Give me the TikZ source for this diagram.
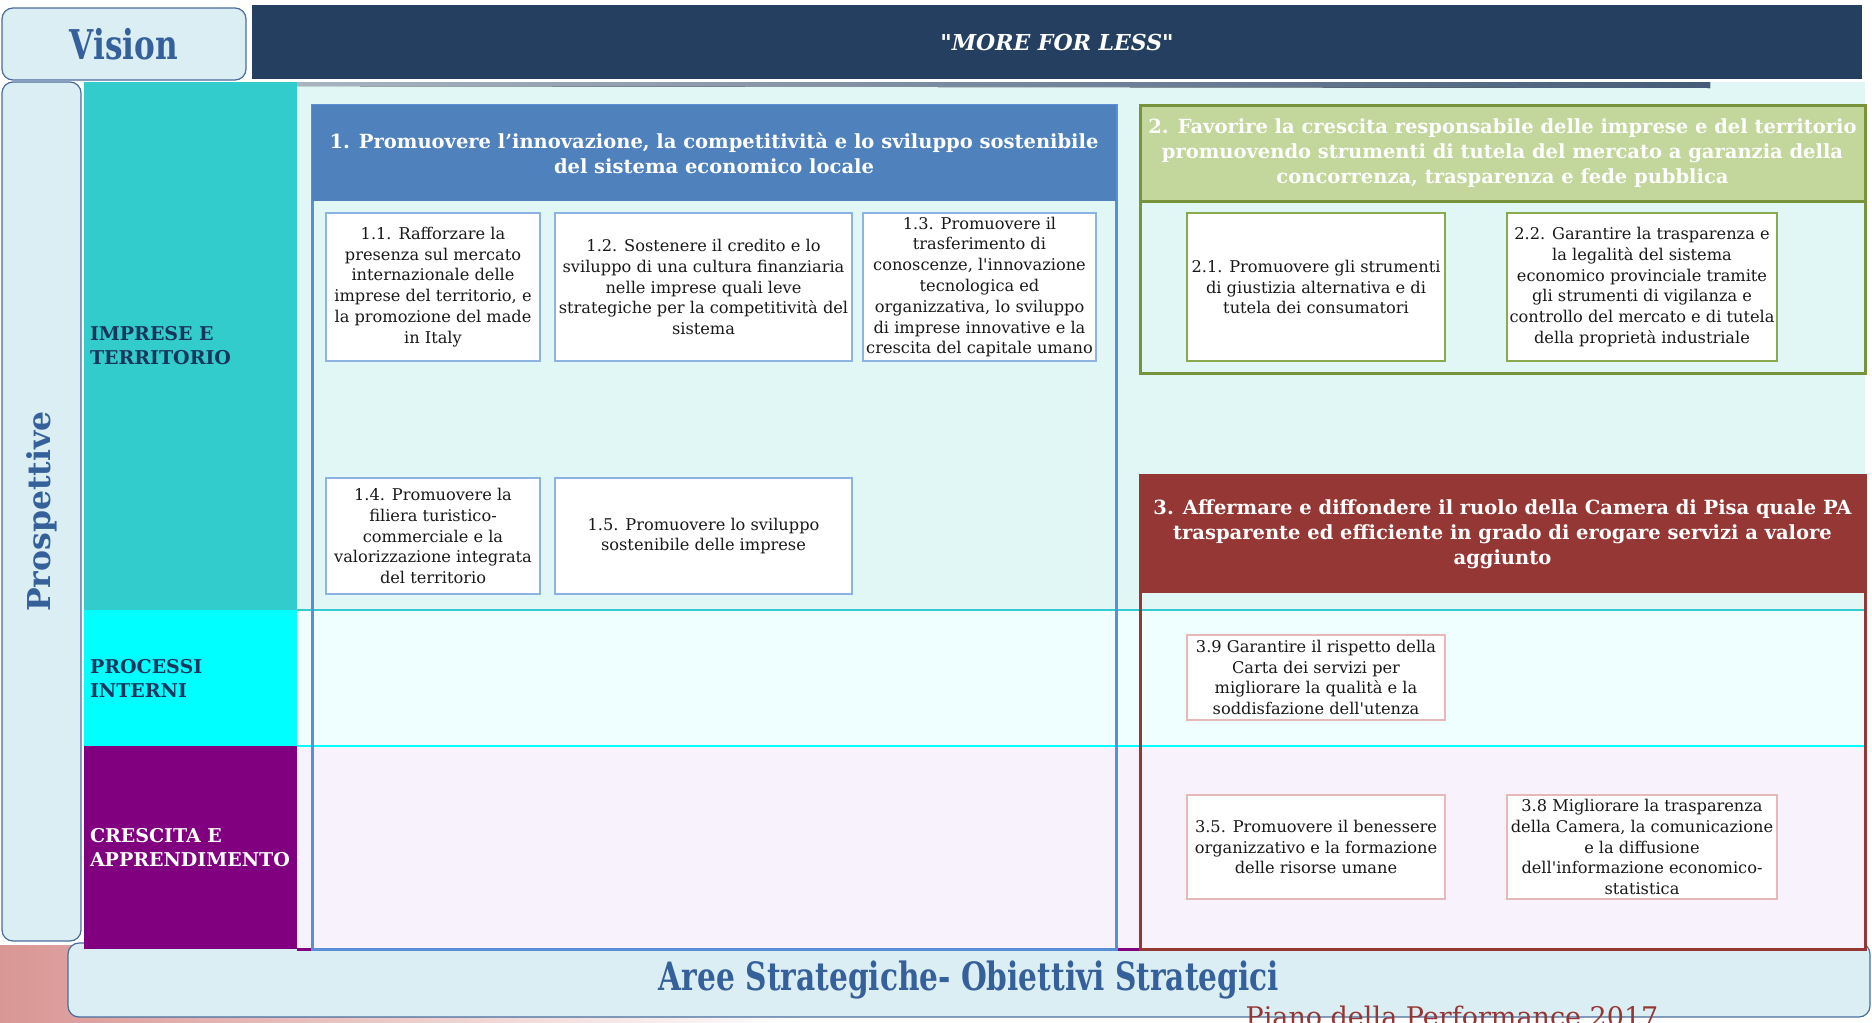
\documentclass[tikz,border=0pt]{standalone}
\usepackage{fontspec}
\usepackage{xcolor}
\usepackage{tikz}
\usetikzlibrary{positioning,calc}
\setmainfont{DejaVu Serif}
\newfontfamily\condserif{DejaVu Serif}[FakeStretch=0.76]
\definecolor{visionfill}{HTML}{DBEEF4}
\definecolor{visionline}{HTML}{4A6C9B}
\definecolor{visiontext}{HTML}{36609A}
\definecolor{mottonavy}{HTML}{243F60}
\definecolor{rowteal}{HTML}{E1F7F5}
\definecolor{rowcyan}{HTML}{EFFFFF}
\definecolor{rowlilac}{HTML}{F8F2FD}
\definecolor{catteal}{HTML}{33CCCC}
\definecolor{catcyan}{HTML}{00FFFF}
\definecolor{catpurple}{HTML}{800080}
\definecolor{catnavy}{HTML}{17365D}
\definecolor{areablue}{HTML}{4F81BD}
\definecolor{arealine}{HTML}{5B8FD5}
\definecolor{areagreen}{HTML}{C3D69B}
\definecolor{greenline}{HTML}{77933C}
\definecolor{areared}{HTML}{953735}
\definecolor{subblue}{HTML}{8DB3E2}
\definecolor{subgreen}{HTML}{8AAA4F}
\definecolor{subpink}{HTML}{E6B9B8}
\definecolor{pianored}{HTML}{943634}
\definecolor{shadepink}{HTML}{D99694}
\newcommand{\goalfont}{\fontsize{16.2}{20.8}\selectfont}
\newcommand{\headfont}{\bfseries\fontsize{19.5}{25}\selectfont}
\newcommand{\catfont}{\bfseries\fontsize{19}{24}\selectfont}
\newcommand{\mottofont}{\bfseries\itshape\fontsize{22}{25}\selectfont}
\newcommand{\visionfont}{\condserif\bfseries\fontsize{41}{44}\selectfont}
\newcommand{\areefont}{\condserif\bfseries\fontsize{39}{42}\selectfont}
\newcommand{\prospfont}{\bfseries\fontsize{31.5}{34}\selectfont}
\newcommand{\pianofont}{\fontsize{27}{30}\selectfont}

\begin{document}
\begin{tikzpicture}[x=1pt, y=-1pt,
    panel/.style={draw=visionline, fill=visionfill, line width=1.2pt, rounded corners=11pt,
        text=visiontext, inner sep=0pt},
    head/.style={align=center, text=white, font=\headfont, inner sep=0pt},
    cat/.style={align=left, font=\catfont, minimum width=213pt, text width=201pt, inner xsep=6pt},
    goal/.style={draw, fill=white, align=center, font=\goalfont, text=black!90, inner sep=1pt, line width=1.3pt}
]
    \useasboundingbox (0,0) rectangle (1872,1023);
    \clip (0,0) rectangle (1872,1023);

    % frame: vision, perspectives, bottom banner
    \fill[left color=shadepink, right color=white] (0,945) rectangle (800,1023);
    \node[panel, minimum width=1802pt, minimum height=74pt, font=\areefont] (aree) at (969,980) {Aree Strategiche- Obiettivi Strategici};
    \node[panel, minimum width=859pt, minimum height=79pt, font=\prospfont, rotate=90] (prosp) at (41.5,511.5) {Prospettive};
    \node[panel, minimum width=244pt, minimum height=72pt, font=\visionfont] (vision) at (124,44) {Vision};
    \node[fill=mottonavy, minimum width=1610pt, minimum height=74pt, text=white, font=\mottofont] (motto) at (1057,42) {\textquotedbl MORE FOR LESS\textquotedbl};

    % rows
    \fill[rowteal] (84,82) rectangle (1865,610);
    \fill[rowcyan] (297,610) rectangle (1865,746);
    \fill[rowlilac] (297,746) rectangle (1865,949);
    \fill[left color=mottonavy!35, right color=mottonavy!85] (170,82) -- (1710,82) -- (1710,88) -- (170,86) -- cycle;
    \node[cat, fill=catteal, minimum height=528pt, text=catnavy] (imprese) at (190.5,346) {IMPRESE E\\TERRITORIO};
    \node[cat, fill=catcyan, minimum height=136pt, text=catnavy] (processi) at (190.5,678) {PROCESSI\\INTERNI};
    \node[cat, fill=catpurple, minimum height=203pt, text=white] (crescita) at (190.5,847.5) {CRESCITA E\\APPRENDIMENTO};
    \draw[catteal, line width=2pt] (297,610) -- (1865,610);
    \draw[catcyan, line width=2.5pt] (297,746) -- (1865,746);
    \draw[catpurple, line width=3pt] (297,949) -- (1865,949);

    % strategic areas
    \draw[arealine, line width=3pt] (312,105) rectangle (1116,949);
    \draw[greenline, line width=3pt] (1140,105) rectangle (1865,373);
    \draw[areared, line width=3pt] (1140,475) rectangle (1865,949);
    \node[head, fill=areablue, minimum width=804pt, minimum height=96pt] (h1) at (714,153)
        {1. Promuovere l’innovazione, la competitività e lo sviluppo sostenibile\\del sistema economico locale};
    \node[head, fill=areagreen, draw=greenline, line width=3pt, minimum width=725pt, minimum height=96pt] (h2) at (1502.5,153)
        {2. Favorire la crescita responsabile delle imprese e del territorio\\promuovendo strumenti di tutela del mercato a garanzia della\\concorrenza, trasparenza e fede pubblica};
    \node[head, fill=areared, minimum width=725pt, minimum height=118pt] (h3) at (1502.5,534)
        {3. Affermare e diffondere il ruolo della Camera di Pisa quale PA\\trasparente ed efficiente in grado di erogare servizi a valore\\aggiunto};

    % objectives
    \node[goal, draw=subblue, minimum width=214pt, minimum height=148pt] (o11) at (433,287)
        {1.1. Rafforzare la\\presenza sul mercato\\internazionale delle\\imprese del territorio, e\\la promozione del made\\in Italy};
    \node[goal, draw=subblue, minimum width=297pt, minimum height=148pt] (o12) at (703.5,287)
        {1.2. Sostenere il credito e lo\\sviluppo di una cultura finanziaria\\nelle imprese quali leve\\strategiche per la competitività del\\sistema};
    \node[goal, draw=subblue, minimum width=233pt, minimum height=148pt] (o13) at (979.5,287)
        {1.3. Promuovere il\\trasferimento di\\conoscenze, l\textquotesingle innovazione\\tecnologica ed\\organizzativa, lo sviluppo\\di imprese innovative e la\\crescita del capitale umano};
    \node[goal, draw=subblue, minimum width=214pt, minimum height=116pt] (o14) at (433,536)
        {1.4. Promuovere la\\filiera turistico-\\commerciale e la\\valorizzazione integrata\\del territorio};
    \node[goal, draw=subblue, minimum width=297pt, minimum height=116pt] (o15) at (703.5,536)
        {1.5. Promuovere lo sviluppo\\sostenibile delle imprese};
    \node[goal, draw=subgreen, minimum width=258pt, minimum height=148pt] (o21) at (1316,287)
        {2.1. Promuovere gli strumenti\\di giustizia alternativa e di\\tutela dei consumatori};
    \node[goal, draw=subgreen, minimum width=270pt, minimum height=148pt] (o22) at (1642,287)
        {2.2. Garantire la trasparenza e\\la legalità del sistema\\economico provinciale tramite\\gli strumenti di vigilanza e\\controllo del mercato e di tutela\\della proprietà industriale};
    \node[goal, draw=subpink, minimum width=258pt, minimum height=85pt] (o39) at (1316,677.5)
        {3.9 Garantire il rispetto della\\Carta dei servizi per\\migliorare la qualità e la\\soddisfazione dell\textquotesingle utenza};
    \node[goal, draw=subpink, minimum width=258pt, minimum height=104pt] (o35) at (1316,847)
        {3.5. Promuovere il benessere\\organizzativo e la formazione\\delle risorse umane};
    \node[goal, draw=subpink, minimum width=270pt, minimum height=104pt] (o38) at (1642,847)
        {3.8 Migliorare la trasparenza\\della Camera, la comunicazione\\e la diffusione\\dell\textquotesingle informazione economico-\\statistica};

    \node[anchor=base, font=\pianofont, text=pianored, inner sep=0pt] (piano) at (1452,1026) {Piano della Performance 2017};
\end{tikzpicture}
\end{document}
